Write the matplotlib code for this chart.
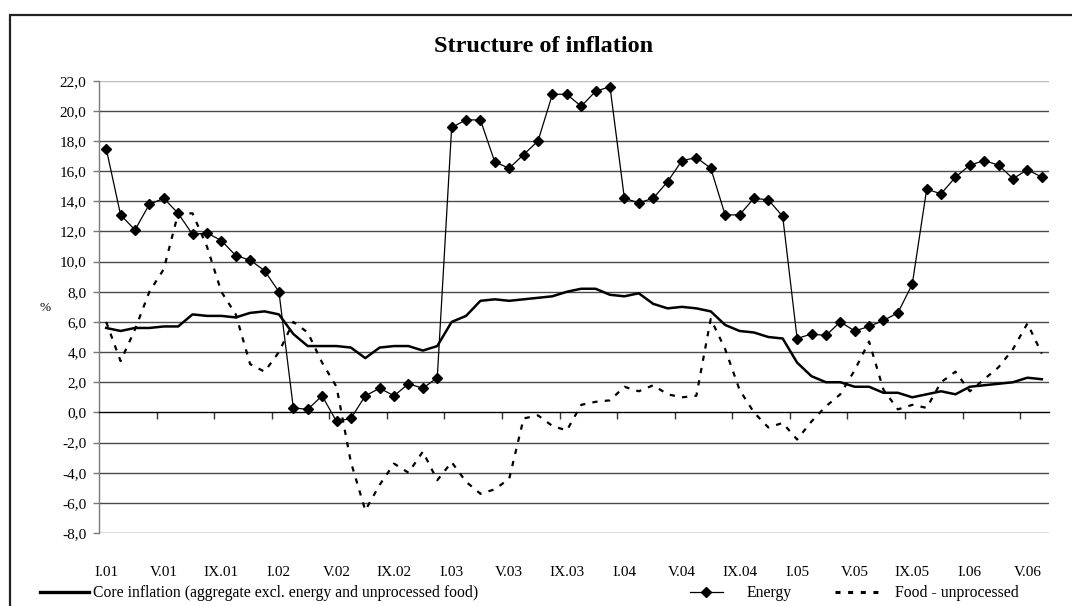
import matplotlib
matplotlib.use("Agg")
import matplotlib.pyplot as plt
from matplotlib.lines import Line2D
from matplotlib.patches import Rectangle
import numpy as np

# ---------------- data ----------------
tick_labels = ["I.01", "V.01", "IX.01", "I.02", "V.02", "IX.02", "I.03", "V.03",
               "IX.03", "I.04", "V.04", "IX.04", "I.05", "V.05", "IX.05", "I.06", "V.06"]

core = [5.6, 5.4, 5.6, 5.6, 5.7, 5.7, 6.5, 6.4, 6.4, 6.3, 6.6, 6.7,
        6.5, 5.2, 4.4, 4.4, 4.4, 4.3, 3.6, 4.3, 4.4, 4.4, 4.1, 4.4,
        6.0, 6.4, 7.4, 7.5, 7.4, 7.5, 7.6, 7.7, 8.0, 8.2, 8.2, 7.8,
        7.7, 7.9, 7.2, 6.9, 7.0, 6.9, 6.7, 5.8, 5.4, 5.3, 5.0, 4.9,
        3.3, 2.4, 2.0, 2.0, 1.7, 1.7, 1.3, 1.3, 1.0, 1.2, 1.4, 1.2,
        1.7, 1.8, 1.9, 2.0, 2.3, 2.2]

energy = [17.5, 13.1, 12.1, 13.8, 14.2, 13.2, 11.8, 11.9, 11.4, 10.4, 10.1, 9.4,
          8.0, 0.3, 0.2, 1.1, -0.6, -0.4, 1.1, 1.6, 1.1, 1.9, 1.6, 2.3,
          18.9, 19.4, 19.4, 16.6, 16.2, 17.1, 18.0, 21.1, 21.1, 20.3, 21.3, 21.6,
          14.2, 13.9, 14.2, 15.3, 16.7, 16.9, 16.2, 13.1, 13.1, 14.2, 14.1, 13.0,
          4.9, 5.2, 5.1, 6.0, 5.4, 5.7, 6.1, 6.6, 8.5, 14.8, 14.5, 15.6,
          16.4, 16.7, 16.4, 15.5, 16.1, 15.6]

food = [6.0, 3.4, 5.5, 8.0, 9.5, 13.2, 13.2, 11.0, 8.0, 6.5, 3.2, 2.7,
        4.0, 6.0, 5.3, 3.3, 1.7, -3.3, -6.5, -4.8, -3.4, -4.0, -2.6, -4.5,
        -3.3, -4.6, -5.4, -5.1, -4.4, -0.4, -0.2, -0.9, -1.2, 0.5, 0.7, 0.8,
        1.7, 1.4, 1.8, 1.2, 1.0, 1.1, 6.2, 4.2, 1.5, 0.0, -1.0, -0.7,
        -1.8, -0.6, 0.4, 1.2, 2.8, 4.7, 1.5, 0.2, 0.5, 0.3, 2.0, 2.7,
        1.4, 2.2, 3.0, 4.2, 5.9, 3.9]

series_names = ["Core inflation (aggregate excl. energy and unprocessed food)",
                "Energy", "Food - unprocessed"]
title = "Structure of inflation"

# ---------------- style ----------------
plt.rcParams['font.family'] = ['Liberation Serif', 'DejaVu Serif']
plt.rcParams['lines.scale_dashes'] = False

W, H = 1072, 606
fig = plt.figure(figsize=(W / 100, H / 100), dpi=100)
fig.patch.set_facecolor('white')

ax = fig.add_axes([99 / W, 1 - 533 / H, (1049 - 99) / W, (533 - 80.7) / H])

x = np.arange(len(core))

ax.plot(x, core, color='black', lw=1.8, solid_joinstyle='round', zorder=4)
ax.plot(x, energy, color='black', lw=0.9, marker='D', markersize=4.8,
        markerfacecolor='black', markeredgecolor='black', zorder=5)
ax.plot(x, food, color='black', lw=1.6, dashes=(3.8, 5.2), zorder=3)

ax.set_xlim(-0.5, len(core) - 0.5)
ax.set_ylim(-8, 22)
yt = np.arange(-8, 22.1, 2)
ax.set_yticks(yt)
ax.set_yticklabels([f"{v:.1f}".replace('.', ',') for v in yt], fontsize=11)
for v in yt:
    if v == 0:
        continue
    ax.axhline(v, color='#bdbdbd' if v == 22 else '#4a4a4a', lw=1.0, zorder=1)

for s in ['top', 'right']:
    ax.spines[s].set_visible(False)
ax.spines['left'].set_color('#7a7a7a')
ax.spines['left'].set_linewidth(1.0)
ax.spines['bottom'].set_position(('data', 0))
ax.spines['bottom'].set_color('black')
ax.spines['bottom'].set_linewidth(1.0)
ax.tick_params(axis='y', direction='out', length=4, width=1, color='#7a7a7a', pad=5)

ax.set_xticks(np.arange(3.5, len(core) - 0.5, 4))
ax.set_xticklabels([])
ax.tick_params(axis='x', direction='out', length=5, width=1, color='#333333')

label_pos = np.arange(0, len(core), 4)
for p, lab in zip(label_pos, tick_labels):
    ax.text(p, -0.088, lab, transform=ax.get_xaxis_transform(), ha='center',
            va='center', fontsize=11)

fig.text(45 / W, 1 - 308 / H, "%", fontsize=9.5, ha='center', va='center')
fig.text(544 / W, 1 - 46 / H, title, fontsize=17.5, fontweight='bold',
         ha='center', va='center')

# outer border
fig.patches.append(Rectangle((10 / W, -0.2), 1.2, 1 - 14.7 / H + 0.2,
                             transform=fig.transFigure, fill=False,
                             edgecolor='#222222', lw=1.6))

# legend
fs_leg = 11.3
h_core = Line2D([], [], color='black', lw=2.4)
h_en = Line2D([], [], color='black', lw=0.9, marker='D', markersize=4.8)
h_food = Line2D([], [], color='black', lw=2.2, dashes=(3.6, 5.5))
ly = 1 - 593 / H
for h, name, xa, hl, pad in [(h_core, series_names[0], 40 / W, 3.1, 0.3),
                             (h_en, series_names[1], 690 / W, 2.1, 1.5),
                             (h_food, series_names[2], 835 / W, 2.8, 1.0)]:
    fig.legend(handles=[h], labels=[name], loc='center left',
               bbox_to_anchor=(xa, ly), frameon=False, fontsize=fs_leg,
               handlelength=hl, handletextpad=pad, borderpad=0.0,
               borderaxespad=0.0)

fig.savefig("out.png", dpi=100)
